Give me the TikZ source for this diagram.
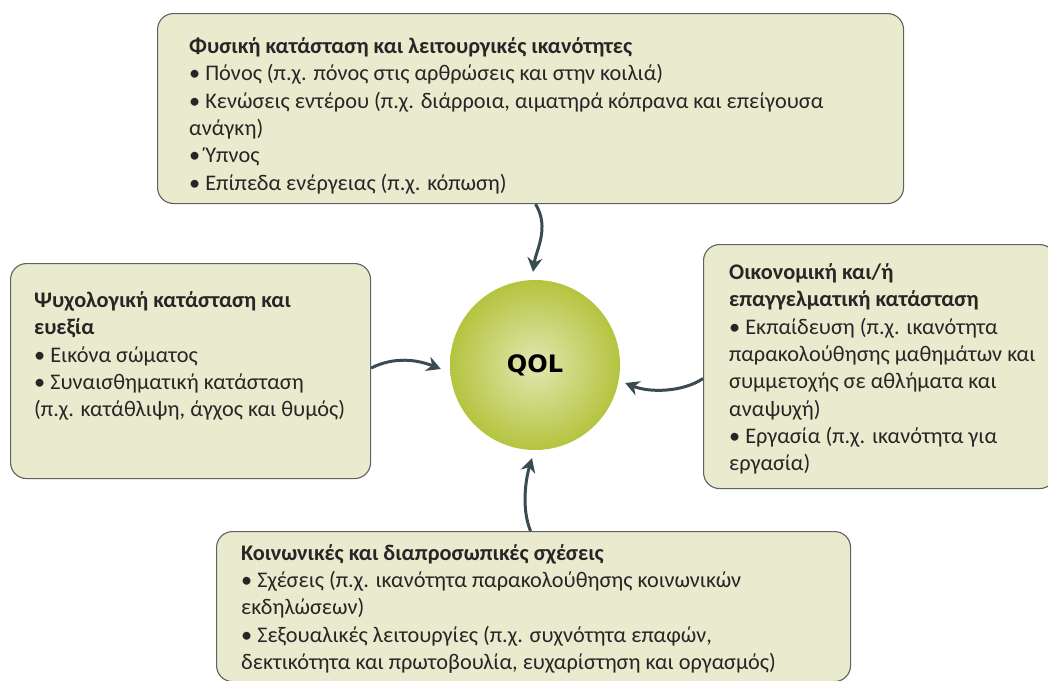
\documentclass[tikz,border=0pt]{standalone}
\usepackage{fontspec}
\setmainfont{Carlito}
\newfontfamily\qolfont{DejaVu Sans}
\usetikzlibrary{arrows.meta}
\definecolor{boxfill}{HTML}{E9EACE}
\definecolor{boxline}{HTML}{5F6360}
\definecolor{arrowcol}{HTML}{3A4B52}
\definecolor{ballin}{HTML}{E2E7B2}
\definecolor{ballout}{HTML}{B4C43F}
\definecolor{txt}{HTML}{262626}
\begin{document}
\begin{tikzpicture}[x=1pt,y=-1pt,
  panel/.style={draw=boxline, line width=1.1pt, fill=boxfill, rounded corners=16pt,
    anchor=north west, inner sep=0pt, rectangle},
  paneltext/.style={anchor=north west, inner sep=0pt, align=left, text=txt,
    font=\fontsize{22.3}{27.3}\selectfont},
  link/.style={draw=arrowcol, line width=3pt, -{Stealth[length=14pt,width=15pt]}},
]
\clip (0,0) rectangle (1048,680);
\fill[white] (0,0) rectangle (1048,680);

% boxes
\node[panel, minimum width=746pt, minimum height=190pt] (top) at (157,13) {};
\node[panel, minimum width=360pt, minimum height=215pt] (left) at (10,263) {};
\node[panel, minimum width=352pt, minimum height=244pt] (right) at (703,244) {};
\node[panel, minimum width=634pt, minimum height=150pt] (bottom) at (216,531) {};

% texts
\node[paneltext] (toptext) at (189,34.2) {\strut\textbf{Φυσική κατάσταση και λειτουργικές ικανότητες}\\
• Πόνος (π.χ. πόνος στις αρθρώσεις και στην κοιλιά)\\
• Κενώσεις εντέρου (π.χ. διάρροια, αιματηρά κόπρανα και επείγουσα\\
ανάγκη)\\
• Ύπνος\\
• Επίπεδα ενέργειας (π.χ. κόπωση)};

\node[paneltext] (lefttext) at (34,288.3) {\strut\textbf{Ψυχολογική κατάσταση και}\\
\textbf{ευεξία}\\
• Εικόνα σώματος\\
• Συναισθηματική κατάσταση\\
(π.χ. κατάθλιψη, άγχος και θυμός)};

\node[paneltext] (righttext) at (729,260.3) {\strut\textbf{Οικονομική και/ή}\\
\textbf{επαγγελματική κατάσταση}\\
• Εκπαίδευση (π.χ. ικανότητα\\
παρακολούθησης μαθημάτων και\\
συμμετοχής σε αθλήματα και\\
αναψυχή)\\
• Εργασία (π.χ. ικανότητα για\\
εργασία)};

\node[paneltext] (bottomtext) at (241,540.8) {\strut\textbf{Κοινωνικές και διαπροσωπικές σχέσεις}\\
• Σχέσεις (π.χ. ικανότητα παρακολούθησης κοινωνικών\\
εκδηλώσεων)\\
• Σεξουαλικές λειτουργίες (π.χ. συχνότητα επαφών,\\
δεκτικότητα και πρωτοβουλία, ευχαρίστηση και οργασμός)};

% central circle
\node[circle, minimum size=170pt, inner sep=0pt, shading=radial, inner color=ballin,
  outer color=ballout, text=black, font=\qolfont\bfseries\fontsize{24}{28}\selectfont] (qol) at (535,365) {QOL};

% connectors
\draw[link] ([shift={(5,0)}]top.south) .. controls (550,228) and (536,250) .. ([shift={(-2,-8)}]qol.north);
\draw[link] ([shift={(0,-3)}]left.east) .. controls (395,356) and (418,360) .. ([shift={(-9,4)}]qol.west);
\draw[link] ([shift={(0,12)}]right.west) .. controls (683,392) and (650,393) .. ([shift={(5,18)}]qol.east);
\draw[link] ([shift={(-3,0)}]bottom.north) .. controls (521,508) and (526,478) .. ([shift={(-3,8)}]qol.south);
\end{tikzpicture}
\end{document}
